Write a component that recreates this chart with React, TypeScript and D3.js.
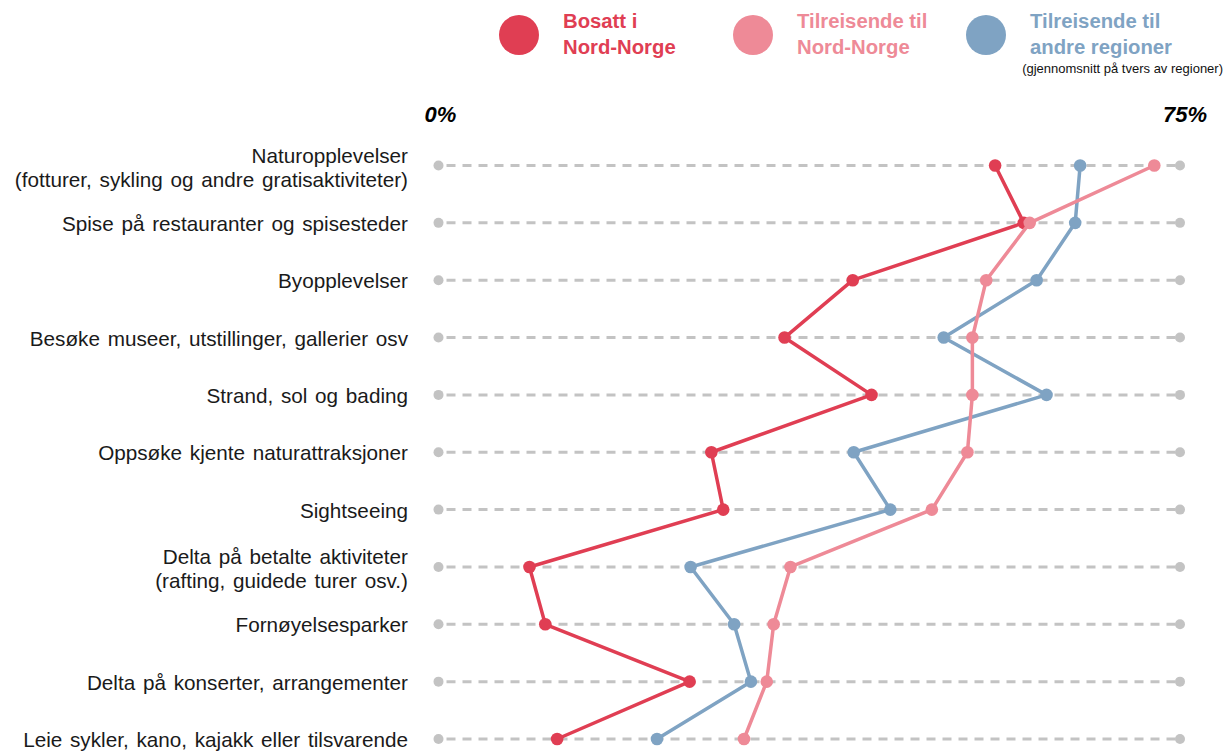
import React from "react";
import * as d3 from "d3";

const categories: string[][] = [
  ["Naturopplevelser", "(fotturer, sykling og andre gratisaktiviteter)"],
  ["Spise på restauranter og spisesteder"],
  ["Byopplevelser"],
  ["Besøke museer, utstillinger, gallerier osv"],
  ["Strand, sol og bading"],
  ["Oppsøke kjente naturattraksjoner"],
  ["Sightseeing"],
  ["Delta på betalte aktiviteter", "(rafting, guidede turer osv.)"],
  ["Fornøyelsesparker"],
  ["Delta på konserter, arrangementer"],
  ["Leie sykler, kano, kajakk eller tilsvarende"],
];

const bosatt = [56.3, 59.2, 41.9, 35.0, 43.8, 27.6, 28.8, 9.2, 10.8, 25.4, 12.0];
const tilreisendeNN = [72.4, 59.8, 55.4, 54.0, 54.0, 53.5, 49.9, 35.6, 33.9, 33.2, 30.9];
const tilreisendeAndre = [64.9, 64.4, 60.5, 51.1, 61.5, 42.0, 45.7, 25.5, 29.9, 31.6, 22.1];

const axisTicks = ["0%", "75%"];
const domainMax = 75;

const RED = "#E03E53";
const PINK = "#EE8A97";
const BLUE = "#7FA3C3";
const GREY = "#C3C3C3";

export default function App() {
  const W = 1226;
  const H = 755;
  const x = d3.scaleLinear().domain([0, domainMax]).range([438.5, 1180]);
  const idx = categories.map((_, i) => String(i));
  const y = d3.scalePoint<string>().domain(idx).range([165.5, 739]);

  const series = [
    { name: "andre", values: tilreisendeAndre, color: BLUE },
    { name: "bosatt", values: bosatt, color: RED },
    { name: "nn", values: tilreisendeNN, color: PINK },
  ];

  const line = d3
    .line<number>()
    .x((d) => x(d))
    .y((_, i) => y(String(i)) as number);

  const font = "'Liberation Sans', Arial, sans-serif";

  const legend = [
    { cx: 519, color: RED, lines: ["Bosatt i", "Nord-Norge"] },
    { cx: 753, color: PINK, lines: ["Tilreisende til", "Nord-Norge"] },
    { cx: 986, color: BLUE, lines: ["Tilreisende til", "andre regioner"] },
  ];

  const labelSize = 20.7;
  const wordSp = 2;

  return (
    <svg
      width={W}
      height={H}
      style={{ position: "absolute", left: 0, top: 0, background: "#fff" }}
      fontFamily={font}
    >
      {/* legend */}
      {legend.map((l, i) => (
        <g key={i}>
          <circle cx={l.cx} cy={35} r={20} fill={l.color} />
          {l.lines.map((t, j) => (
            <text
              key={j}
              x={l.cx + 44}
              y={28 + j * 26}
              fill={l.color}
              fontWeight="bold"
              fontSize={20.3}
            >
              {t}
            </text>
          ))}
        </g>
      ))}
      <text x={1223} y={73} textAnchor="end" fontSize={13} fill="#111">
        (gjennomsnitt på tvers av regioner)
      </text>

      {/* axis end labels */}
      <text
        x={x(0) + 2}
        y={122}
        textAnchor="middle"
        fontSize={22}
        fontWeight="bold"
        fontStyle="italic"
        fill="#000"
      >
        {axisTicks[0]}
      </text>
      <text
        x={x(domainMax) + 5}
        y={122}
        textAnchor="middle"
        fontSize={22}
        fontWeight="bold"
        fontStyle="italic"
        fill="#000"
      >
        {axisTicks[1]}
      </text>

      {/* rows */}
      {categories.map((c, i) => {
        const yy = y(String(i)) as number;
        return (
          <g key={i}>
            <line
              x1={x(0)}
              x2={x(domainMax)}
              y1={yy}
              y2={yy}
              stroke={GREY}
              strokeWidth={3}
              strokeDasharray="9,7"
              strokeDashoffset={-8}
            />
            <circle cx={x(0)} cy={yy} r={5} fill={GREY} />
            <circle cx={x(domainMax)} cy={yy} r={5} fill={GREY} />
            {c.length === 1 ? (
              <text
                x={408}
                y={yy + 8}
                textAnchor="end"
                fontSize={labelSize}
                wordSpacing={wordSp}
                fill="#1a1a1a"
              >
                {c[0]}
              </text>
            ) : (
              c.map((t, j) => (
                <text
                  key={j}
                  x={408}
                  y={yy - 3 + j * 24}
                  textAnchor="end"
                  fontSize={labelSize}
                  wordSpacing={wordSp}
                  fill="#1a1a1a"
                >
                  {t}
                </text>
              ))
            )}
          </g>
        );
      })}

      {/* series */}
      {series.map((s) => (
        <g key={s.name}>
          <path
            d={line(s.values) || ""}
            fill="none"
            stroke={s.color}
            strokeWidth={3.5}
            strokeLinejoin="round"
          />
          {s.values.map((v, i) => (
            <circle
              key={i}
              cx={x(v)}
              cy={y(String(i)) as number}
              r={6.3}
              fill={s.color}
            />
          ))}
        </g>
      ))}
    </svg>
  );
}
